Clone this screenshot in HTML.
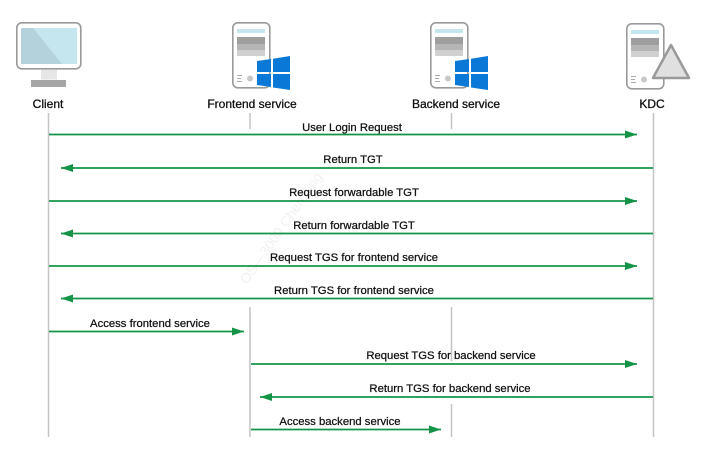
<!DOCTYPE html>
<html><head><style>
html,body{margin:0;padding:0;background:#fff;}
svg{display:block;font-family:"Liberation Sans",Arial,sans-serif;}
</style></head><body>
<svg width="711" height="452" viewBox="0 0 711 452" xmlns="http://www.w3.org/2000/svg">
<defs>
<marker id="a" markerWidth="12" markerHeight="8" refX="12" refY="4" orient="auto" markerUnits="userSpaceOnUse"><path d="M0,0 L12,4 L0,8 Z" fill="#159447"/></marker>
<g id="srv">
<rect x="0.8" y="0.8" width="37" height="65" rx="5" fill="#fff" stroke="#9a9a9a" stroke-width="1.6"/>
<rect x="5" y="7" width="28" height="4" fill="#c6e6ef"/>
<rect x="5" y="15" width="28" height="7" fill="#9e9e9e"/>
<rect x="5" y="22" width="28" height="6" fill="#b5b5b5"/>
<rect x="5" y="28" width="28" height="6" fill="#d0d0d0"/>
<rect x="5" y="53" width="5" height="1" fill="#aaa"/><rect x="5" y="56" width="4" height="1" fill="#aaa"/><rect x="5" y="59" width="5" height="1" fill="#aaa"/>
<circle cx="18" cy="56.5" r="3" fill="#c8c8c8"/>
</g>
<g id="win">
<path d="M0,4 L14,2 L14,15 L0,15 Z M16,1.7 L33,-1 L33,15 L16,15 Z M0,17 L14,17 L14,30 L0,28 Z M16,17 L33,17 L33,33 L16,30.5 Z" fill="#0a78d7"/>
</g>
</defs>
<rect x="16.8" y="22.8" width="64" height="46" rx="5" fill="#fff" stroke="#9a9a9a" stroke-width="1.6"/>
<rect x="21" y="28" width="56" height="36" fill="#c5e5ef"/>
<path d="M21,28 L33,28 L62,64 L21,64 Z" fill="#b3d2dc"/>
<rect x="41" y="69.5" width="16" height="10" fill="#e6e6e6"/>
<rect x="31" y="80" width="35" height="7" fill="#a6a6a6"/>
<use href="#srv" x="232" y="22"/>
<use href="#win" x="257" y="57"/>
<use href="#srv" x="430" y="22"/>
<use href="#win" x="455" y="57"/>
<use href="#srv" x="626" y="23"/>
<path d="M653,78 L671,45 L689,78 Z" fill="#e0e0e0" stroke="#9a9a9a" stroke-width="2.5" stroke-linejoin="round"/>
<g font-size="12" fill="#111" stroke="#111" stroke-width="0.3" text-anchor="middle">
<text x="48" y="108">Client</text>
<text x="252" y="108">Frontend service</text>
<text x="456" y="108">Backend service</text>
<text x="652" y="108">KDC</text>
</g>
<g stroke="#c4c4c4" stroke-width="1.5">
<line x1="48.5" y1="113" x2="48.5" y2="437"/>
<line x1="653.5" y1="113" x2="653.5" y2="437"/>
<line x1="250" y1="113" x2="250" y2="129"/>
<line x1="451.5" y1="113" x2="451.5" y2="129"/>
<line x1="250" y1="307" x2="250" y2="437"/>
<line x1="451.5" y1="307" x2="451.5" y2="361"/>
<line x1="451.5" y1="404" x2="451.5" y2="437"/>
</g>
<g stroke="#159447" stroke-width="1.7" marker-end="url(#a)">
<line x1="49" y1="134.5" x2="637" y2="134.5"/>
<line x1="653" y1="168" x2="61" y2="168"/>
<line x1="49" y1="201" x2="637" y2="201"/>
<line x1="653" y1="233.5" x2="61" y2="233.5"/>
<line x1="49" y1="266" x2="637" y2="266"/>
<line x1="653" y1="298.5" x2="61" y2="298.5"/>
<line x1="49" y1="331.5" x2="244" y2="331.5"/>
<line x1="251" y1="364" x2="637" y2="364"/>
<line x1="653" y1="397" x2="260" y2="397"/>
<line x1="251" y1="429.5" x2="441" y2="429.5"/>
</g>
<g font-size="11.3" fill="#111" stroke="#111" stroke-width="0.25" text-anchor="middle">
<text x="352" y="131">User Login Request</text>
<text x="353" y="163">Return TGT</text>
<text x="354" y="196">Request forwardable TGT</text>
<text x="354" y="229">Return forwardable TGT</text>
<text x="354" y="261">Request TGS for frontend service</text>
<text x="354" y="294">Return TGS for frontend service</text>
<text x="150" y="327">Access frontend service</text>
<text x="451" y="359">Request TGS for backend service</text>
<text x="450" y="392">Return TGS for backend service</text>
<text x="340" y="425">Access backend service</text>
</g>
<text x="0" y="0" font-size="14" fill="#000" fill-opacity="0.06" transform="translate(247,285) rotate(-55)">OS—3000 Chen Jing</text>
</svg>
</body></html>
